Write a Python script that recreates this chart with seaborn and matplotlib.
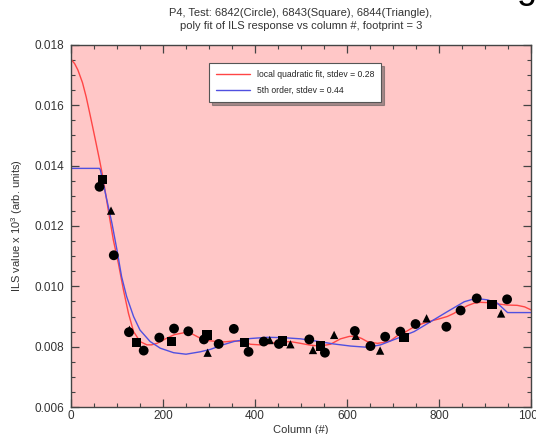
import matplotlib
matplotlib.use("Agg")
import matplotlib.pyplot as plt
from matplotlib.ticker import MultipleLocator, FormatStrFormatter
import seaborn as sns
import pandas as pd

# Measured ILS response per test (column #, value)
circle_col = [62, 93, 126, 158, 192, 224, 255, 289, 321, 354, 386, 419, 452, 518,
              552, 617, 651, 683, 716, 749, 816, 847, 882, 948]
circle_val = [0.0133, 0.01103, 0.00848, 0.00787, 0.0083, 0.0086, 0.00851, 0.00824,
              0.00809, 0.00859, 0.00783, 0.00817, 0.00809, 0.00824, 0.0078, 0.00852,
              0.00802, 0.00833, 0.0085, 0.00875, 0.00866, 0.0092, 0.0096, 0.00957]

square_col = [69, 143, 218, 296, 377, 460, 542, 724, 915]
square_val = [0.01355, 0.00814, 0.00818, 0.00838, 0.00813, 0.00819, 0.00802, 0.0083, 0.0094]

triangle_col = [87, 127, 297, 432, 477, 526, 572, 619, 672, 773, 935]
triangle_val = [0.01251, 0.00856, 0.0078, 0.00822, 0.00808, 0.00789, 0.00839, 0.00836,
                0.00787, 0.00894, 0.0091]

# Local quadratic fit
quad_col = [0, 8, 15, 25, 33, 40, 47, 54, 62, 68, 73, 81, 92, 103, 114, 125, 136, 150,
            165, 175, 187, 208, 225, 245, 260, 281, 300, 317, 335, 354, 370, 390, 410,
            430, 455, 480, 499, 520, 542, 564, 586, 605, 619, 632, 644, 666, 680, 695,
            710, 725, 746, 765, 782, 800, 818, 832, 847, 862, 876, 890, 906, 925, 949,
            970, 986, 1000]
quad_val = [0.01753, 0.01738, 0.01717, 0.01675, 0.01628, 0.01579, 0.01529, 0.01478,
            0.01419, 0.01372, 0.01328, 0.01253, 0.01154, 0.01076, 0.00988, 0.0091,
            0.0085, 0.00817, 0.00806, 0.00806, 0.00811, 0.00828, 0.0084, 0.00846,
            0.00845, 0.00828, 0.0082, 0.00817, 0.00816, 0.00819, 0.00818, 0.00808,
            0.00806, 0.0081, 0.00817, 0.00816, 0.00811, 0.00805, 0.00802, 0.00808,
            0.00826, 0.00834, 0.00835, 0.00827, 0.00817, 0.00811, 0.00814, 0.0082,
            0.00837, 0.00847, 0.00866, 0.00877, 0.00885, 0.00892, 0.009, 0.0091,
            0.00924, 0.00936, 0.00944, 0.00947, 0.00946, 0.00942, 0.00938, 0.00937,
            0.00932, 0.00922]

# 5th order polynomial fit (clamped at the ends)
poly_col = [0, 62, 64, 67, 78, 89, 100, 110, 121, 136, 150, 172, 194, 223, 250, 281,
            303, 330, 354, 390, 426, 460, 499, 535, 571, 608, 644, 673, 710, 746, 782,
            818, 855, 880, 906, 927, 949, 1000]
poly_val = [0.01391, 0.01391, 0.01385, 0.01363, 0.01286, 0.01209, 0.0112, 0.01032,
            0.00966, 0.009, 0.00855, 0.00817, 0.00795, 0.0078, 0.00775, 0.00783,
            0.00791, 0.00806, 0.00817, 0.00827, 0.00831, 0.0083, 0.00826, 0.00818,
            0.00809, 0.00802, 0.00798, 0.00806, 0.00828, 0.0085, 0.00883, 0.00916,
            0.00949, 0.0096, 0.00955, 0.00944, 0.00913, 0.00913]

title_lines = ["P4, Test: 6842(Circle), 6843(Square), 6844(Triangle),",
               "poly fit of ILS response vs column #, footprint = 3"]
quad_label = "local quadratic fit, stdev = 0.28"
poly_label = "5th order, stdev = 0.44"

sns.set_style("ticks")
plt.rcParams["font.family"] = ["Liberation Sans", "DejaVu Sans"]
plt.rcParams["mathtext.fontset"] = "custom"
plt.rcParams["mathtext.rm"] = "Liberation Sans"

fig = plt.figure(figsize=(5.36, 4.34), dpi=100)
fig.patch.set_facecolor("white")
ax = fig.add_axes([71 / 536, 1 - 407 / 434, 460 / 536, 362 / 434])
ax.set_facecolor("#ffc7c7")

quad_df = pd.DataFrame({"col": quad_col, "val": quad_val})
poly_df = pd.DataFrame({"col": poly_col, "val": poly_val})
sns.lineplot(data=quad_df, x="col", y="val", ax=ax, color="#ff4545", lw=1.0,
             label=quad_label, sort=False)
sns.lineplot(data=poly_df, x="col", y="val", ax=ax, color="#5050e0", lw=1.0,
             label=poly_label, sort=False)

pts = dict(color="black", edgecolor="none", legend=False, ax=ax, zorder=5)
sns.scatterplot(x=circle_col, y=circle_val, marker="o", s=50, **pts)
sns.scatterplot(x=square_col, y=square_val, marker="s", s=46, **pts)
sns.scatterplot(x=triangle_col, y=triangle_val, marker="^", s=36, **pts)

ax.set_xlim(0, 1000)
ax.set_ylim(0.006, 0.018)
ax.xaxis.set_major_locator(MultipleLocator(200))
ax.xaxis.set_minor_locator(MultipleLocator(50))
ax.yaxis.set_major_locator(MultipleLocator(0.002))
ax.yaxis.set_minor_locator(MultipleLocator(0.0005))
ax.yaxis.set_major_formatter(FormatStrFormatter("%.3f"))
ax.tick_params(which="both", direction="in", top=True, right=True,
               color="#444444", labelsize=8.5, labelcolor="#333333")
ax.tick_params(axis="y", pad=5)
ax.tick_params(axis="x", pad=2)
ax.tick_params(which="major", length=6, width=0.9)
ax.tick_params(which="minor", length=3, width=0.8)
for sp in ax.spines.values():
    sp.set_color("#444444")
    sp.set_linewidth(1.0)
    sp.set_visible(True)

ax.set_xlabel("Column (#)", fontsize=8, color="#333333", labelpad=2)
ax.set_ylabel("ILS value x 10$^{3}$ (arb. units)", fontsize=8,
              color="#333333", labelpad=7)

fig.text(301 / 536, 1 - 13 / 434, title_lines[0], ha="center", va="center",
         fontsize=8, color="#333333")
fig.text(301 / 536, 1 - 26 / 434, title_lines[1], ha="center", va="center",
         fontsize=8, color="#333333")
fig.text(527 / 536, 1 - 6 / 434, "g", ha="center", va="bottom", fontsize=26,
         color="black")

leg = ax.legend(loc="upper left", bbox_to_anchor=(0.3, 0.95), borderaxespad=0,
                fontsize=6.2, frameon=True, fancybox=False, shadow=True,
                edgecolor="#555555", framealpha=1, handlelength=4.0,
                borderpad=0.8, labelspacing=0.8, handletextpad=0.8)
leg.get_frame().set_linewidth(0.8)

fig.savefig("out.png", dpi=100)
